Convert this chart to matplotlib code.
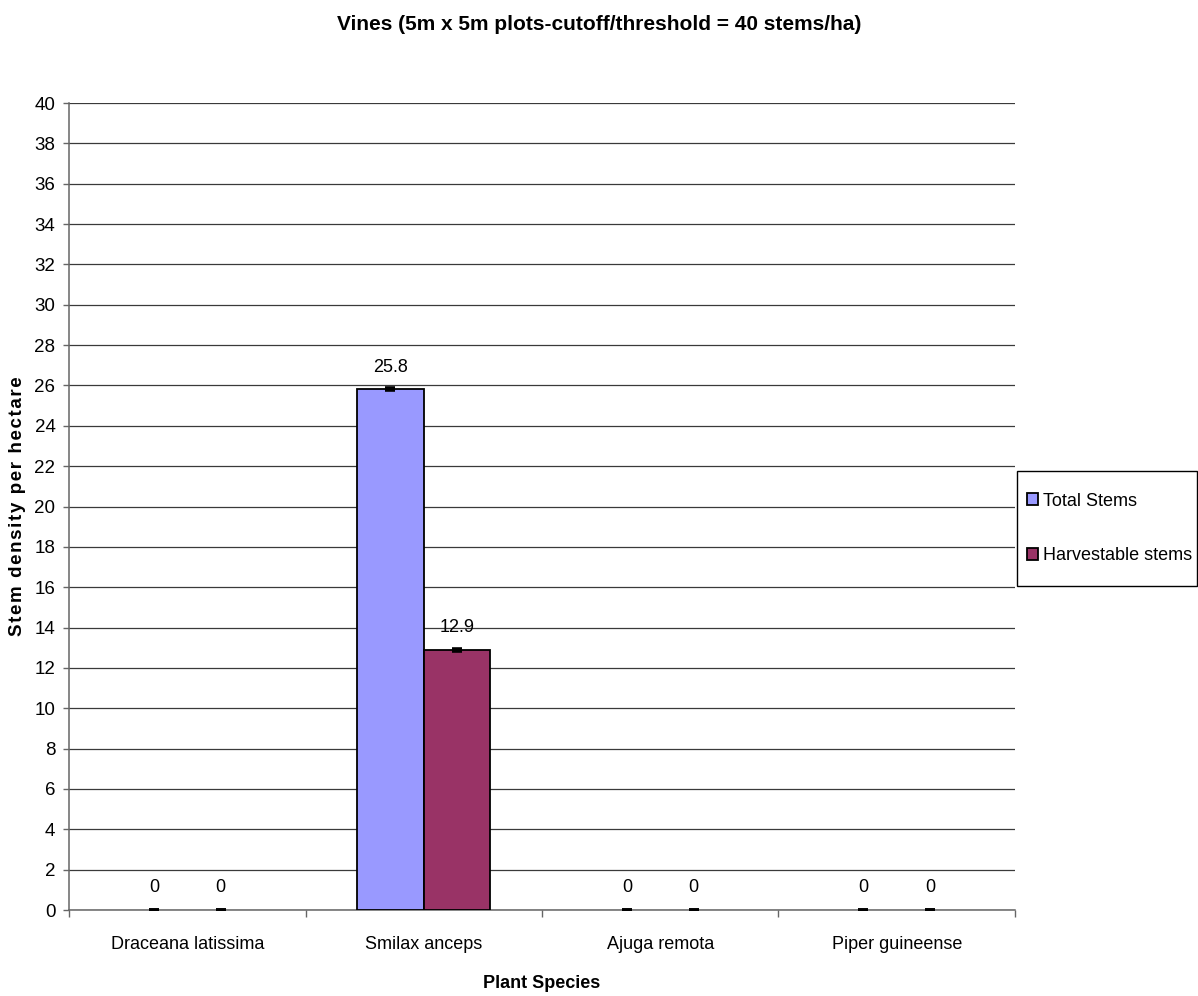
import matplotlib
matplotlib.use("Agg")
import matplotlib.pyplot as plt
from matplotlib.patches import Patch, Rectangle
import numpy as np

species = ["Draceana latissima", "Smilax anceps", "Ajuga remota", "Piper guineense"]
total_stems = [0, 25.8, 0, 0]
harvestable_stems = [0, 12.9, 0, 0]
total_err = [0, 0.05, 0, 0]
harvestable_err = [0, 0.05, 0, 0]
series_names = ["Total Stems", "Harvestable stems"]
y_ticks = list(range(0, 41, 2))

plt.rcParams['font.family'] = ['Liberation Sans', 'DejaVu Sans']

W, H = 1198, 996
fig = plt.figure(figsize=(W / 100, H / 100), dpi=100)
left, right, top, bottom = 69, 1015, 103, 910
ax = fig.add_axes([left / W, 1 - bottom / H, (right - left) / W, (bottom - top) / H])

x = np.arange(len(species))
w = 0.282
colors = ["#9999FF", "#993366"]
for off, vals, errs, col in [(-w / 2, total_stems, total_err, colors[0]),
                             (w / 2, harvestable_stems, harvestable_err, colors[1])]:
    lws = [1.3 if v > 0 else 0 for v in vals]
    ax.bar(x + off, vals, width=w, color=col, edgecolor="black", linewidth=lws, zorder=3)
    ax.errorbar(x + off, vals, yerr=errs, fmt="none", ecolor="black", elinewidth=1.5,
                capsize=3.6, capthick=2.6, zorder=4)
    for xi, v in zip(x + off, vals):
        ax.annotate(f"{v:g}", (xi, v), xytext=(0, 16), textcoords="offset points",
                    ha="center", va="center", fontsize=13, zorder=5)

ax.set_xlim(-0.5, len(species) - 0.5)
ax.set_ylim(0, 40)
ax.set_yticks(y_ticks)
ax.set_yticklabels([str(t) for t in y_ticks], fontsize=13.5)
ax.set_xticks(x)
ax.set_xticklabels(species, fontsize=13)
ax.tick_params(axis="x", which="major", length=0, pad=19)
ax.set_xticks(np.arange(-0.5, len(species)), minor=True)
ax.tick_params(axis="x", which="minor", length=5, width=1, color="#666666")
ax.tick_params(axis="y", length=4.3, width=1, color="#666666", pad=5.5)

ax.grid(axis="y", color="#3a3a3a", linewidth=0.9, zorder=0)
for s in ["top", "right"]:
    ax.spines[s].set_visible(False)
for s in ["left", "bottom"]:
    ax.spines[s].set_color("#666666")
    ax.spines[s].set_linewidth(1.1)

ax.set_xlabel("Plant Species", fontsize=13, fontweight="bold")
ax.xaxis.set_label_coords(0.5, -(983 - bottom) / (bottom - top))
ax.xaxis.label.set_va("center")
ax.set_ylabel("\u200a".join("Stem density per hectare"), fontsize=13.5, fontweight="bold")
ax.yaxis.set_label_coords(-(left - 18) / (right - left), 0.5)
ax.yaxis.label.set_va("center")

fig.text(0.5, 1 - 25 / H, "Vines (5m x 5m plots-cutoff/threshold = 40 stems/ha)",
         ha="center", va="center", fontsize=15, fontweight="bold")

handles = [Patch(facecolor=c, edgecolor="black", linewidth=1.3) for c in colors]
fig.legend(handles, series_names, loc="center left",
           bbox_to_anchor=(1017 / W, 1 - 528.5 / H), fontsize=13, frameon=False,
           handlelength=0.6, handleheight=0.6, handletextpad=0.3,
           labelspacing=2.1, borderpad=0.55, borderaxespad=0)
fig.patches.append(Rectangle((1017 / W, 1 - 586 / H), (1197 - 1017) / W, (586 - 471) / H,
                             transform=fig.transFigure, fill=False, edgecolor="black",
                             linewidth=1.0))

fig.savefig("out.png", dpi=100)
